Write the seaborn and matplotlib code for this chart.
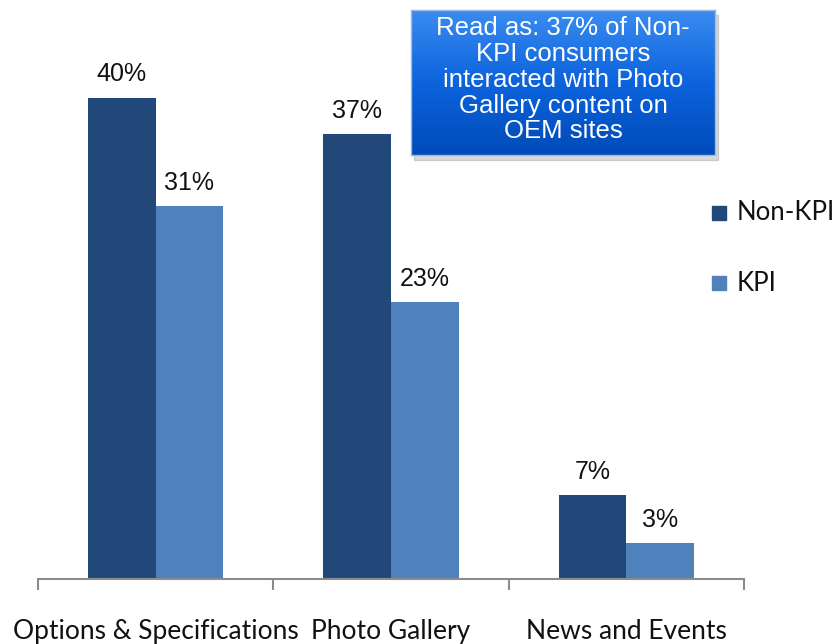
import matplotlib
matplotlib.use("Agg")
import matplotlib.pyplot as plt
from matplotlib.colors import LinearSegmentedColormap
import numpy as np
import pandas as pd
import seaborn as sns

categories = ["Options & Specifications", "Photo Gallery", "News and Events"]
series = ["Non-KPI", "KPI"]
non_kpi = [40, 37, 7]
kpi = [31, 23, 3]
colors = {"Non-KPI": "#22487a", "KPI": "#4f81bd"}

df = pd.DataFrame({
    "category": categories * 2,
    "group": ["Non-KPI"] * 3 + ["KPI"] * 3,
    "value": non_kpi + kpi,
})

sns.set_theme(style="white")
plt.rcParams["font.family"] = ["Liberation Sans", "DejaVu Sans"]
narrow = ["Lato", "DejaVu Sans"]

W, H = 839, 644
fig = plt.figure(figsize=(W / 100, H / 100), dpi=100)
ax = fig.add_axes([38 / W, (H - 579) / H, (744 - 38) / W, 579 / H])

sns.barplot(data=df, x="category", y="value", hue="group", order=categories,
            hue_order=series, palette=colors, width=0.575, saturation=1,
            edgecolor="none", legend=False, ax=ax)

ax.set_xlim(-0.5, 2.5)
ax.set_ylim(0, 48.1)
for s in ["top", "right", "left"]:
    ax.spines[s].set_visible(False)
ax.spines["bottom"].set_color("#8c8c8c")
ax.spines["bottom"].set_linewidth(1.5)
ax.set_yticks([])
ax.set_xlabel("")
ax.set_ylabel("")

ax.set_xticks([0, 1, 2])
ax.set_xticklabels(categories, fontsize=19, family=narrow, color="#111111")
ax.tick_params(axis="x", which="major", length=0, pad=29)
ax.set_xticks([-0.5, 0.5, 1.5, 2.5], minor=True)
ax.tick_params(axis="x", which="minor", length=8, width=1.5, color="#8c8c8c",
               direction="out", bottom=True)

# value labels above each bar
for cont in ax.containers:
    ax.bar_label(cont, labels=[f"{v:.0f}%" for v in cont.datavalues],
                 padding=8, fontsize=18, color="#111111")

# legend with square markers
for name, y in [("Non-KPI", 213), ("KPI", 283)]:
    fig.patches.append(plt.Rectangle((712 / W, 1 - (y + 7) / H), 14 / W, 14 / H,
                                     transform=fig.transFigure, color=colors[name]))
    fig.text(737 / W, 1 - y / H, name, fontsize=18.5, family=narrow,
             va="center", ha="left", color="#111111")

# callout box with vertical gradient
bx0, bx1, by0, by1 = 411, 715, 10, 155
shadow = plt.Rectangle(((bx0 + 3) / W, 1 - (by1 + 5) / H), (bx1 - bx0) / W,
                       (by1 - by0) / H, transform=fig.transFigure,
                       color="#000000", alpha=0.15, zorder=2)
fig.patches.append(shadow)
bax = fig.add_axes([bx0 / W, 1 - by1 / H, (bx1 - bx0) / W, (by1 - by0) / H], zorder=3)
grad = np.linspace(0, 1, 256).reshape(-1, 1)
cmap = LinearSegmentedColormap.from_list("callout", ["#3a8cf0", "#0c63dc", "#004bb8"])
bax.imshow(grad, aspect="auto", cmap=cmap, extent=[0, 1, 0, 1], origin="upper")
bax.set_xlim(0, 1)
bax.set_ylim(0, 1)
bax.set_xticks([])
bax.set_yticks([])
for s in bax.spines.values():
    s.set_color("#9ab8e8")
    s.set_linewidth(1)
bax.text(0.5, 0.52, "Read as: 37% of Non-\nKPI consumers\ninteracted with Photo\nGallery content on\nOEM sites",
         ha="center", va="center", color="white", fontsize=18.5, linespacing=1.1)

fig.savefig("out.png", dpi=100)
